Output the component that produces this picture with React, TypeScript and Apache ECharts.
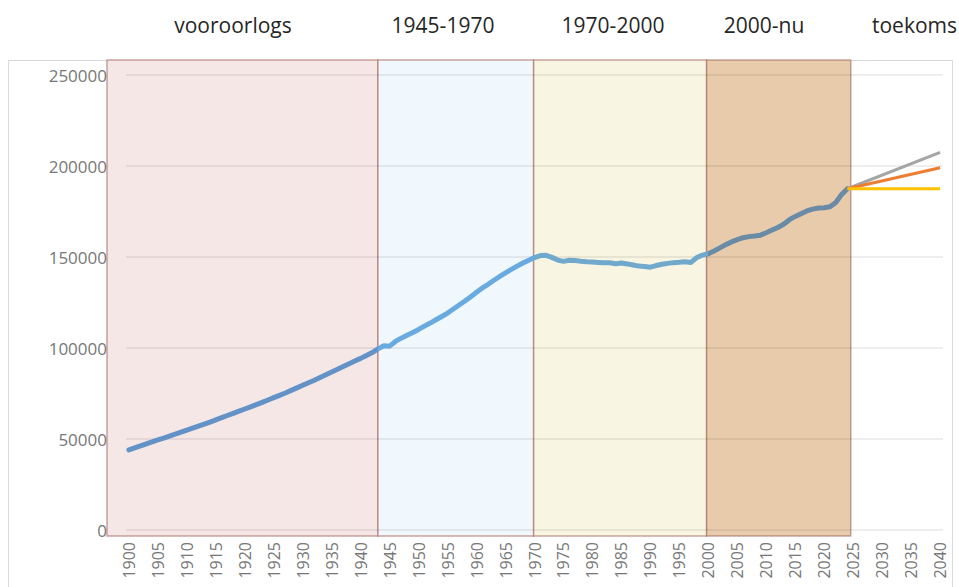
import React, { useEffect, useRef } from "react";
import * as echarts from "echarts";

// Category axis: years 1900..2040
const years: string[] = Array.from({ length: 141 }, (_, i) => String(1900 + i));
const xLabelYears = ["1900","1905","1910","1915","1920","1925","1930","1935","1940","1945","1950","1955","1960","1965","1970","1975","1980","1985","1990","1995","2000","2005","2010","2015","2020","2025","2030","2035","2040"];

// Population 1900..2024
const population: number[] = [
  44000, 45100, 46200, 47300, 48400, 49500, 50500, 51600, 52700, 53800,
  54900, 56000, 57100, 58200, 59300, 60500, 61700, 62900, 64100, 65300,
  66500, 67700, 68900, 70100, 71400, 72700, 74000, 75300, 76700, 78100,
  79500, 80900, 82300, 83800, 85300, 86800, 88300, 89800, 91300, 92800,
  94300, 95900, 97500, 99500, 101200, 101000, 103600, 105400, 107000, 108500,
  110200, 112000, 113700, 115500, 117300, 119200, 121400, 123600, 125800, 128200,
  130600, 133000, 135000, 137200, 139300, 141300, 143200, 145000, 146700, 148200,
  149700, 150800, 150900, 149800, 148300, 147600, 148200, 148100, 147700, 147400,
  147200, 147000, 146800, 146800, 146300, 146700, 146200, 145600, 145000, 144800,
  144400, 145300, 146000, 146500, 146900, 147100, 147400, 147000, 149700, 151000,
  151800, 153300, 155000, 156800, 158300, 159500, 160600, 161200, 161500, 162000,
  163300, 164800, 166200, 168000, 170500, 172300, 173800, 175300, 176300, 176900,
  177100, 177600, 180000, 184300, 187500,
];

// Projections (start 2024, end 2040)
const projectionYears = ["2024", "2040"];
const projectionHigh = [187500, 207500];
const projectionMid = [187500, 199000];
const projectionLow = [187500, 187500];

// Period bands
const periodNames = ["vooroorlogs", "1945-1970", "1970-2000", "2000-nu"];
const bandStarts = [1896, 1943, 1970, 2000];
const bandEnds = [1943, 1970, 2000, 2025];
const futureLabel = "toekoms";

const bandFills = ["#f6e7e7", "#f1f8fd", "#f8f6e2", "#e8cbab"];
const lineColors = ["#6292c6", "#69abe0", "#71a9cc", "#6a8ba6"];

function toFull(vals: number[], ys: string[]): (number | null)[] {
  return years.map((y) => {
    const k = ys.indexOf(y);
    return k >= 0 ? vals[k] : null;
  });
}

export default function App() {
  const ref = useRef<HTMLDivElement>(null);
  useEffect(() => {
    if (!ref.current) return;
    const chart = echarts.init(ref.current, undefined, { renderer: "svg" });
    const font = "'Open Sans', sans-serif";
    const mainData = years.map((_, i) => (i < population.length ? population[i] : null));
    const bandData = periodNames.map((n, i) => [bandStarts[i], bandEnds[i], i]);
    const b1 = years.indexOf(String(bandEnds[0]));
    const b2 = years.indexOf(String(bandEnds[1]));
    const b3 = years.indexOf(String(bandEnds[2]));
    const pieces = [
      { min: -1, max: b1, color: lineColors[0] },
      { gt: b1, lte: b2, color: lineColors[1] },
      { gt: b2, lte: b3, color: lineColors[2] },
      { gt: b3, max: 1000, color: lineColors[3] },
    ];
    const labelX = [233, 443, 613, 764];
    chart.setOption({
      animation: false,
      backgroundColor: "#ffffff",
      textStyle: { fontFamily: font },
      graphic: [
        {
          type: "rect",
          z: -10,
          shape: { x: 8.5, y: 60.5, width: 944, height: 560 },
          style: { fill: "none", stroke: "#d9d9d9", lineWidth: 1 },
        },
        ...periodNames.map((n, i) => ({
          type: "text",
          x: labelX[i],
          y: 25,
          style: {
            text: n,
            font: `21px ${font}`,
            fill: "#262626",
            textAlign: "center",
            textVerticalAlign: "middle",
          },
        })),
        {
          type: "text",
          x: 957,
          y: 25,
          style: {
            text: futureLabel,
            font: `21px ${font}`,
            fill: "#262626",
            textAlign: "right",
            textVerticalAlign: "middle",
          },
        },
      ],
      visualMap: {
        show: false,
        type: "piecewise",
        dimension: 0,
        seriesIndex: 1,
        pieces,
      },
      grid: [
        { left: 126, right: 16, top: 75, bottom: 57 },
        { left: 107, right: 16, top: 60, bottom: 51 },
      ],
      xAxis: [
        {
          type: "category",
          gridIndex: 0,
          data: years,
          boundaryGap: true,
          axisLine: { show: false },
          axisTick: { show: false },
          axisLabel: {
            rotate: 90,
            margin: 12,
            color: "#777777",
            fontSize: 16,
            fontFamily: font,
            interval: (idx: number, val: string) => xLabelYears.indexOf(val) >= 0,
          },
        },
        {
          type: "value",
          gridIndex: 1,
          min: 1896,
          max: 2041,
          show: false,
          splitLine: { show: false },
        },
      ],
      yAxis: [
        {
          type: "value",
          gridIndex: 0,
          min: 0,
          max: 250000,
          interval: 50000,
          z: 2,
          axisLine: { show: false },
          axisTick: { show: false },
          axisLabel: {
            margin: 19,
            color: "#777777",
            fontSize: 17,
            fontFamily: font,
            formatter: (v: number) => String(v),
          },
          splitLine: { lineStyle: { color: "rgba(0,0,0,0.09)", width: 1.5 } },
        },
        {
          type: "value",
          gridIndex: 1,
          min: 0,
          max: 1,
          show: false,
          splitLine: { show: false },
        },
      ],
      series: [
        {
          type: "custom",
          xAxisIndex: 1,
          yAxisIndex: 1,
          z: 1,
          silent: true,
          encode: { x: [0, 1] },
          data: bandData,
          renderItem: (params: any, api: any) => {
            const s = api.coord([api.value(0), 1]);
            const e = api.coord([api.value(1), 0]);
            const idx = api.value(2);
            return {
              type: "rect",
              shape: { x: s[0], y: s[1], width: e[0] - s[0], height: e[1] - s[1] },
              style: { fill: bandFills[idx], stroke: "rgba(165,105,95,0.6)", lineWidth: 1.5 },
            };
          },
        },
        {
          name: "bevolking",
          type: "line",
          xAxisIndex: 0,
          yAxisIndex: 0,
          z: 3,
          data: mainData,
          showSymbol: false,
          symbol: "none",
          lineStyle: { width: 5, cap: "round", join: "round" },
        },
        {
          name: "hoog",
          type: "line",
          z: 3,
          data: toFull(projectionHigh, projectionYears),
          connectNulls: true,
          showSymbol: false,
          symbol: "none",
          lineStyle: { width: 3, color: "#a5a5a5" },
          itemStyle: { color: "#a5a5a5" },
        },
        {
          name: "midden",
          type: "line",
          z: 3,
          data: toFull(projectionMid, projectionYears),
          connectNulls: true,
          showSymbol: false,
          symbol: "none",
          lineStyle: { width: 3, color: "#ed7d31" },
          itemStyle: { color: "#ed7d31" },
        },
        {
          name: "laag",
          type: "line",
          z: 3,
          data: toFull(projectionLow, projectionYears),
          connectNulls: true,
          showSymbol: false,
          symbol: "none",
          lineStyle: { width: 3, color: "#ffc000" },
          itemStyle: { color: "#ffc000" },
        },
      ],
    });
    return () => chart.dispose();
  }, []);
  return (
    <div
      ref={ref}
      style={{ position: "absolute", left: 0, top: 0, width: 959, height: 587 }}
    />
  );
}
